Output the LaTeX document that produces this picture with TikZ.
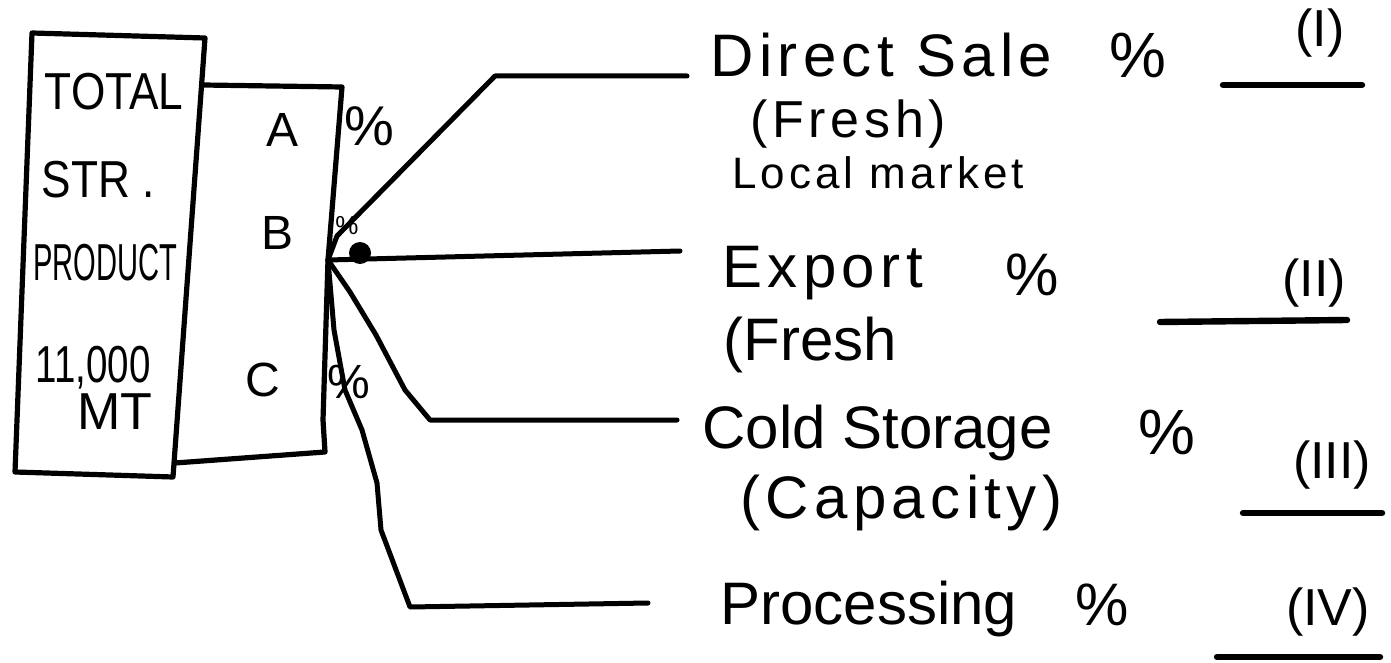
\documentclass[tikz,border=0pt]{standalone}
\usepackage{fontspec}
\setmainfont{Liberation Sans}
\newfontfamily\wideface[LetterSpace=9]{Liberation Sans}
\usepackage{graphicx}
\usetikzlibrary{positioning}

\begin{document}
\begin{tikzpicture}[
  x=0.5pt, y=-0.5pt,
  pen/.style={line width=2.6pt, line join=round, line cap=round},
  wire/.style={line width=2.5pt, line join=round, line cap=round},
  blank/.style={line width=3.2pt, line cap=round},
  lbl/.style={font=\fontsize{30}{34}\selectfont, inner sep=0pt, anchor=base west},
  wide/.style={font=\wideface\fontsize{#1}{#1}\selectfont, inner sep=0pt, anchor=base west},
  boxtxt/.style={font=\fontsize{26}{30}\selectfont, inner sep=0pt},
  seg/.style={font=\fontsize{24}{28}\selectfont, inner sep=0pt},
  pct/.style={font=\fontsize{#1}{#1}\selectfont, inner sep=0pt},
  num/.style={font=\fontsize{26}{30}\selectfont, inner sep=0pt}
]
\useasboundingbox (0,0) rectangle (1391,663);
%% Hub on the split box edge
\coordinate (hub) at (328,260);
%% Storage box and split box
\draw[pen] (32,33) -- (205,38) -- (173,477) -- (15,472) -- cycle;
\draw[pen] (203,85) -- (342,87) -- (hub) -- (323,420) -- (325,452) -- (175,463);
%% Box texts
\node[boxtxt] (tot) at (114,92) {\scalebox{0.85}[1]{TOTAL}};
\node[boxtxt] (str) at (98,180) {\scalebox{0.85}[1]{STR .}};
\node[boxtxt] (prod) at (105,263) {\scalebox{0.56}[1]{PRODUCT}};
\node[boxtxt] (qty) at (93,368) {\scalebox{0.74}[1]{11,000}};
\node[boxtxt] (mt) at (115,412) {MT};
\node[seg] (A) at (283,130) {A};
\node[seg] (B) at (278,233) {B};
\node[seg] (C) at (263,380) {C};
\node[pct=28] (pA) at (369,126) {\%};
\node[pct=13] (pB) at (347,226) {\%};
\node[pct=24] (pC) at (349,382) {\%};
%% Line ends
\coordinate (e1) at (687,76);
\coordinate (e2) at (680,251);
\coordinate (e3) at (677,420);
\coordinate (e4) at (648,603);
%% Connectors
\draw[wire] (hub) -- (337,236) -- (495,76) -- (e1);
\draw[wire] (hub) -- (e2);
\draw[wire] (hub) -- (350,292) -- (376,335) -- (405,390) -- (430,420) -- (e3);
\draw[wire] (hub) -- (334,330) -- (345,390) -- (362,430) -- (377,483) -- (381,530) -- (410,607) -- (e4);
\node[circle, fill, inner sep=0pt, minimum size=11] (dot) at (360,253) {};
%% Destination labels
\node[wide=30] (ds) at (710,77) {Direct Sale};
\node[wide=26] (ds2) at (750,138) {(Fresh)};
\node[wide=22] (ds3) at (732,189) {Local market};
\node[wide=30] (ex) at (722,287) {Export};
\node[lbl] (ex2) at (723,360) {(Fresh};
\node[lbl] (cs) at (702,448) {Cold Storage};
\node[wide=30] (cs2) at (740,518) {(Capacity)};
\node[lbl] (pr) at (720,624) {Processing};
\node[pct=32] (p1) at (1138,55) {\%};
\node[pct=30] (p2) at (1032,275) {\%};
\node[pct=32] (p3) at (1167,432) {\%};
\node[pct=30] (p4) at (1102,605) {\%};
%% Numbered blanks
\node[num] (n1) at (1320,33) {(I)};
\node[num] (n2) at (1314,283) {(II)};
\node[num] (n3) at (1332,465) {(III)};
\node[num] (n4) at (1328,612) {(IV)};
\draw[blank] (1223,85) -- (1362,85);
\draw[blank] (1160,322) -- (1347,320);
\draw[blank] (1243,513) -- (1382,513);
\draw[blank] (1217,657) -- (1380,657);
\end{tikzpicture}
\end{document}
